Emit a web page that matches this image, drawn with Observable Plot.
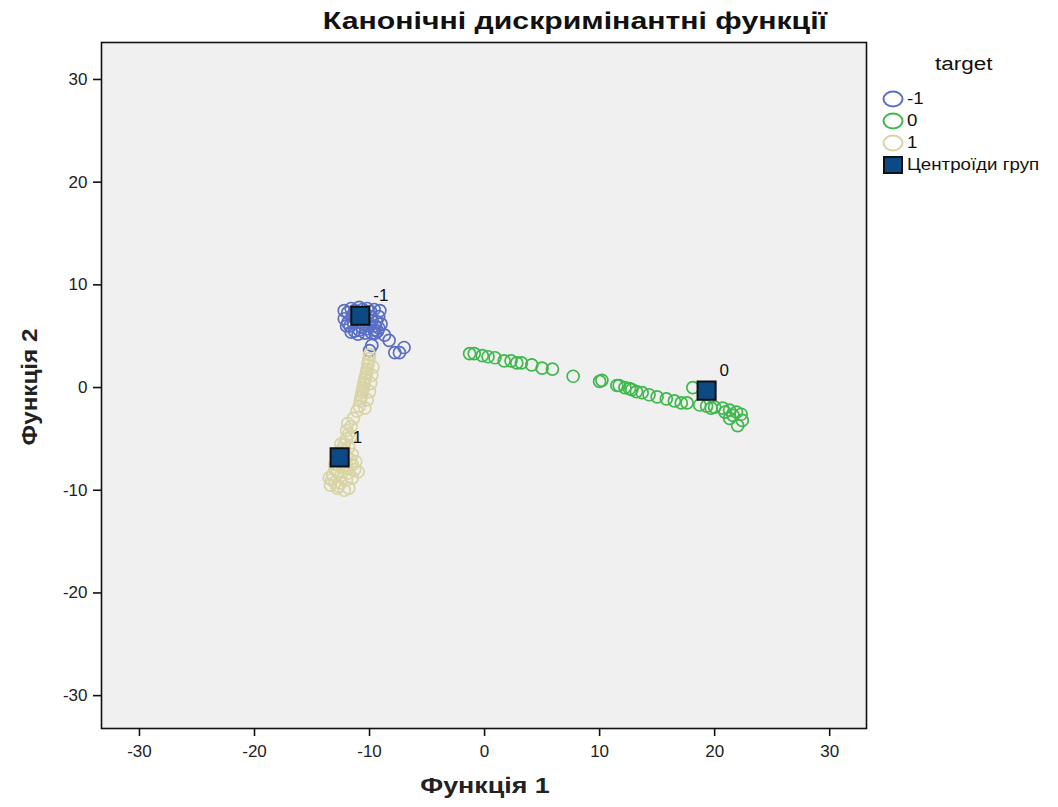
<!DOCTYPE html>
<html>
<head>
<meta charset="utf-8">
<script src="https://cdn.jsdelivr.net/npm/d3@7"></script>
<script src="https://cdn.jsdelivr.net/npm/@observablehq/plot@0.6"></script>
<style>
  html, body { margin: 0; padding: 0; background: #fff; }
  #wrap { position: relative; width: 1058px; height: 807px; font-family: "Liberation Sans", Arial, sans-serif; }
  #chart { position: absolute; left: 0; top: 0; }
  .title { position: absolute; left: 575px; top: 7px; transform: translateX(-50%) scaleX(1.26); font-weight: bold; font-size: 24px; color: #111; white-space: nowrap; }
  .xlab { position: absolute; left: 485px; top: 773px; transform: translateX(-50%) scaleX(1.22); font-weight: bold; font-size: 22px; color: #222; white-space: nowrap; }
  .ylab { position: absolute; left: 30px; top: 387px; transform: translate(-50%, -50%) rotate(-90deg) scaleX(1.1); font-weight: bold; font-size: 22px; color: #222; white-space: nowrap; }
  .legend { position: absolute; left: 878px; top: 54px; font-size: 17px; color: #111; }
  .legend .lt { position: absolute; left: 57px; top: 0; font-size: 18px; white-space: nowrap; transform-origin: left center; transform: scaleX(1.25); }
  .legend .item { position: absolute; left: 4px; height: 22px; display: flex; align-items: center; white-space: nowrap; }
  .legend .item span { display: inline-block; transform-origin: left center; transform: scaleX(1.1); }
  .legend svg { margin-right: 1px; }
</style>
</head>
<body>
<div id="wrap">
  <div id="chart"></div>
  <div class="title">Канонічні дискримінантні функції</div>
  <div class="xlab">Функція 1</div>
  <div class="ylab">Функція 2</div>
  <div class="legend" id="legend"></div>
</div>
<script>
// Group labels and colours
const groups = ["-1", "0", "1"];
const groupColors = ["#5a6fc4", "#3fb84c", "#d8d4a4"];
const centroidColor = "#0c4a86";
const centroidLabel = "Центроїди груп";
const tickValues = [-30, -20, -10, 0, 10, 20, 30];

// Group -1 scores (Функція 1, Функція 2)
const g1x = [-12.2, -11.6, -10.9, -10.2, -9.6, -9.1, -12.2, -11.7, -11.3, -10.7, -9.8, -9.5, -9.3, -9.8, -8.7, -8.3, -9.8, -10.0, -7.8, -7.4, -11.0, -10.5, -11.5, -10.0, -9.0, -9.2, -10.4, -7.0, -11.9, -10.8,
  -11.9, -11.3, -10.6, -9.9, -12.0, -11.4, -10.9, -10.3, -9.6, -9.4, -11.6, -10.5, -9.9, -9.2, -11.0, -9.5];
const g1y = [7.5, 7.7, 7.8, 7.7, 7.6, 7.5, 6.7, 6.0, 5.5, 5.9, 6.5, 6.0, 5.5, 5.3, 5.1, 4.6, 4.1, 3.6, 3.4, 3.4, 7.2, 6.8, 7.0, 6.0, 6.2, 5.8, 5.3, 3.9, 6.3, 6.4,
  7.3, 7.5, 7.6, 7.4, 6.0, 6.3, 5.6, 5.7, 5.6, 6.4, 5.4, 6.2, 6.9, 6.9, 5.2, 5.3];

// Group 0 scores
const g0x = [-1.3, -0.9, -0.2, 0.3, 0.9, 1.7, 2.3, 2.8, 3.2, 4.1, 5.0, 5.9, 7.7, 10.0, 10.2, 11.5, 11.7, 12.2, 12.6, 12.8, 13.2, 13.7, 14.3, 15.0, 15.8, 16.5, 17.1, 17.6, 18.1, 18.7, 19.3, 20.0, 20.7, 21.3, 21.9, 22.3, 22.4, 22.0, 21.3, 19.7, 20.9, 21.6];
const g0y = [3.3, 3.3, 3.1, 3.0, 2.9, 2.6, 2.6, 2.4, 2.4, 2.2, 1.9, 1.8, 1.1, 0.6, 0.7, 0.2, 0.2, 0.0, -0.1, -0.2, -0.4, -0.5, -0.7, -0.9, -1.1, -1.3, -1.5, -1.5, 0.0, -1.7, -1.8, -1.9, -2.0, -2.2, -2.4, -2.6, -3.2, -3.7, -3.0, -2.0, -2.4, -2.7];

// Group 1 scores
const g2x = [-10.0, -10.1, -10.2, -10.3, -10.4, -10.5, -10.6, -10.7, -10.8, -10.9, -11.1, -11.4, -11.6, -11.8, -12.0, -12.2, -12.4, -12.6, -12.8, -13.0, -13.0, -13.2, -13.3, -13.4, -12.5, -12.0, -11.8, -11.5, -11.3, -12.2, -11.8, -12.0, -11.8, -11.5, -12.8, -13.5, -11.2, -11.0, -12.3,
  -10.05, -10.15, -10.25, -10.35, -10.45, -10.55, -10.65, -10.75, -12.5, -12.2, -12.0, -11.7, -12.8, -12.5, -13.0, -12.0, -11.5, -12.7, -11.6, -11.9,
  -9.7, -9.8, -9.9, -10.0, -10.2, -10.4];
const g2y = [3.2, 2.5, 1.8, 1.3, 0.8, 0.3, -0.3, -0.8, -1.3, -1.8, -2.3, -3.0, -3.8, -4.5, -5.0, -5.5, -6.0, -6.5, -7.0, -7.5, -8.0, -8.5, -9.0, -9.5, -9.3, -9.0, -8.3, -7.5, -8.0, -10.0, -9.8, -4.2, -5.8, -6.5, -9.8, -8.8, -7.2, -8.2, -7.8,
  2.8, 2.2, 1.5, 1.0, 0.5, 0.0, -0.5, -1.0, -5.5, -6.2, -6.8, -7.0, -8.2, -8.6, -9.2, -7.5, -8.8, -9.6, -4.8, -3.5,
  2.0, 1.2, 0.4, -0.4, -1.2, -2.0];

// Group centroids
const centX = [-10.8, 19.3, -12.6];
const centY = [7.0, -0.3, -6.8];

const points = [
  ...g1x.map((x, i) => ({x, y: g1y[i], g: "-1"})),
  ...g0x.map((x, i) => ({x, y: g0y[i], g: "0"})),
  ...g2x.map((x, i) => ({x, y: g2y[i], g: "1"}))
];
const centroids = groups.map((g, i) => ({x: centX[i], y: centY[i], g}));

const plot = Plot.plot({
  width: 1058,
  height: 807,
  marginLeft: 101,
  marginRight: 192,
  marginTop: 42,
  marginBottom: 79,
  style: {background: "transparent", fontFamily: "Liberation Sans, Arial, sans-serif"},
  x: {domain: [-33.3, 33.2]},
  y: {domain: [-33.2, 33.6]},
  color: {domain: groups, range: groupColors},
  marks: [
    Plot.frame({fill: "#f0f0f0"}),
    Plot.dot(points, {x: "x", y: "y", stroke: "g", r: 6, strokeWidth: 1.7, fill: "none"}),
    Plot.dot(centroids, {x: "x", y: "y", symbol: "square", r: 10.2, fill: centroidColor, stroke: "#111", strokeWidth: 2}),
    Plot.text(centroids, {x: "x", y: "y", text: "g", dx: 13, dy: -20, textAnchor: "start", fontSize: 17, fill: "#111"}),
    Plot.frame({stroke: "#111", strokeWidth: 1.6}),
    Plot.axisX({ticks: tickValues, tickFormat: d => String(d), tickSize: 8, tickPadding: 8, fontSize: 17, label: null, stroke: "#111", strokeWidth: 1.6, color: "#222"}),
    Plot.axisY({ticks: tickValues, tickFormat: d => String(d), tickSize: 8, tickPadding: 6, fontSize: 17, label: null, stroke: "#111", strokeWidth: 1.6, color: "#222"})
  ]
});
document.getElementById("chart").appendChild(plot);

// legend
const leg = document.getElementById("legend");
const lt = document.createElement("div");
lt.className = "lt";
lt.textContent = "target";
leg.appendChild(lt);
groups.forEach((g, i) => {
  const it = document.createElement("div");
  it.className = "item";
  it.style.top = (34 + i * 22) + "px";
  it.innerHTML = `<svg width="24" height="18"><ellipse cx="11" cy="9" rx="9.5" ry="7.5" fill="none" stroke="${groupColors[i]}" stroke-width="2"/></svg><span>${g}</span>`;
  leg.appendChild(it);
});
const ci = document.createElement("div");
ci.className = "item";
ci.style.top = (34 + 3 * 22) + "px";
ci.innerHTML = `<svg width="24" height="18"><rect x="2" y="1" width="18" height="16" fill="${centroidColor}" stroke="#111" stroke-width="2"/></svg><span>${centroidLabel}</span>`;
leg.appendChild(ci);
</script>
</body>
</html>
